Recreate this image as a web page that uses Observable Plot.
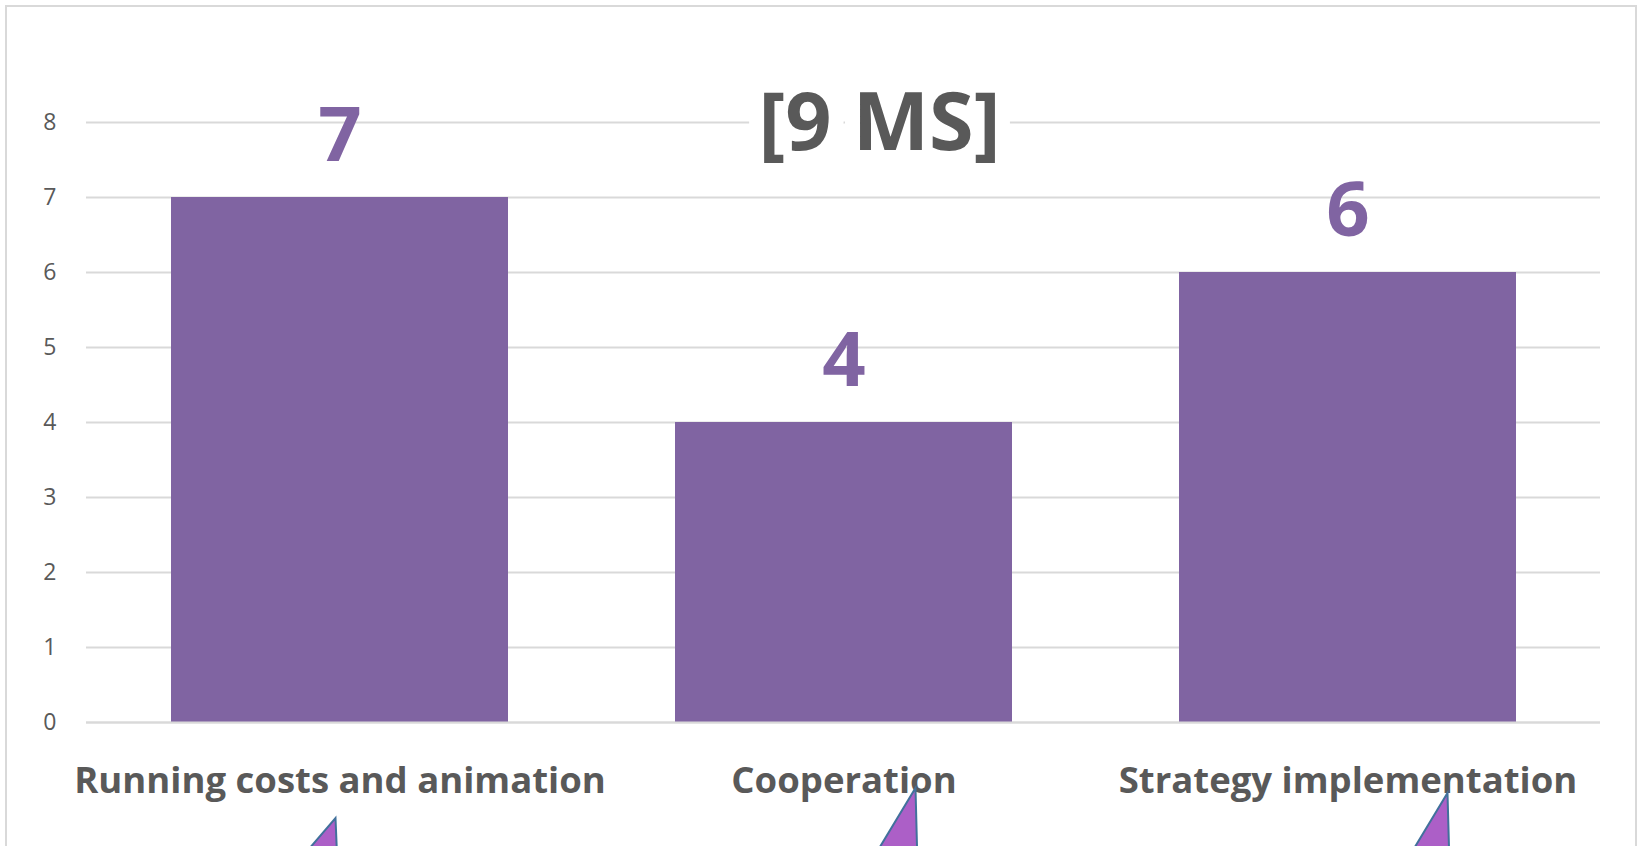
<!DOCTYPE html>
<html><head><meta charset="utf-8">
<script src="https://cdn.jsdelivr.net/npm/d3@7"></script>
<script src="https://cdn.jsdelivr.net/npm/@observablehq/plot@0.6"></script>
<style>
html,body{margin:0;padding:0;background:#fff;}
#wrap{position:relative;width:1638px;height:846px;overflow:hidden;}
#frame{position:absolute;left:5px;top:5px;width:1632px;height:900px;border:2px solid #d9d9d9;box-sizing:border-box;}
#chart{position:absolute;left:0;top:0;}
</style></head><body>
<div id="wrap"><div id="frame"></div><div id="chart"></div></div>
<script>
const categories = ["Running costs and animation", "Cooperation", "Strategy implementation"];
const values = [7, 4, 6];
const yTicks = [0, 1, 2, 3, 4, 5, 6, 7, 8];
const title = "[9 MS]";

const data = categories.map((c, i) => ({category: c, value: values[i]}));
const purple = "#8064a2";
const gray = "#595959";

// decorative callout pointers below the category labels (shape only, anchored on category bands)
function pointers(index, scales, vals, dims) {
  const g = d3.create("svg:g");
  const H = dims.height;
  const xs = scales.x;
  const bw = typeof xs.bandwidth === "function" ? xs.bandwidth() : (xs.bandwidth || 0);
  const shapes = [
    {cat: categories[0], dx: -4, rise: 28, spread: 24 / 28},
    {cat: categories[1], dx: 72, rise: 58, spread: 35 / 58},
    {cat: categories[2], dx: 100, rise: 53, spread: 32 / 53}
  ];
  for (const s of shapes) {
    const tx = xs(s.cat) + bw / 2 + s.dx;
    const ty = H - s.rise;
    const ext = s.rise + 20;
    g.append("path")
      .attr("d", `M${tx},${ty} L${tx + 2},${ty + ext} L${tx - s.spread * ext},${ty + ext} Z`)
      .attr("fill", "#ac5fc7")
      .attr("stroke", "#41719c")
      .attr("stroke-width", 2)
      .attr("stroke-linejoin", "miter");
  }
  return g.node();
}

const chart = Plot.plot({
  width: 1638,
  height: 846,
  marginTop: 122,
  marginBottom: 124,
  marginLeft: 86,
  marginRight: 38,
  style: {fontFamily: "'Open Sans', sans-serif", background: "transparent", overflow: "visible"},
  x: {domain: categories, paddingInner: 0.332, paddingOuter: 0.166, label: null},
  y: {domain: [0, 8], label: null},
  marks: [
    Plot.ruleY(yTicks, {stroke: "#d9d9d9", strokeWidth: 2}),
    Plot.barY(data, {x: "category", y: "value", fill: purple}),
    Plot.ruleY([0], {stroke: "#d9d9d9", strokeWidth: 2}),
    Plot.axisY(yTicks, {tickSize: 0, tickPadding: 30, fontSize: 23, fill: gray, label: null, tickFormat: d3.format("d")}),
    Plot.axisX({tickSize: 0, tickPadding: 45, fontSize: 36.5, fontWeight: "bold", fill: gray, label: null}),
    Plot.text(data, {x: "category", y: "value", text: d => String(d.value), lineAnchor: "bottom", dy: -37, fontSize: 76, fontWeight: "bold", fill: purple}),
    Plot.text([title], {frameAnchor: "top", dx: 36, dy: 27, lineAnchor: "bottom", fontSize: 81, fontWeight: "bold", fill: gray, stroke: "white", strokeWidth: 30, paintOrder: "stroke"}),
    pointers
  ]
});
document.getElementById("chart").append(chart);
</script>
</body></html>
